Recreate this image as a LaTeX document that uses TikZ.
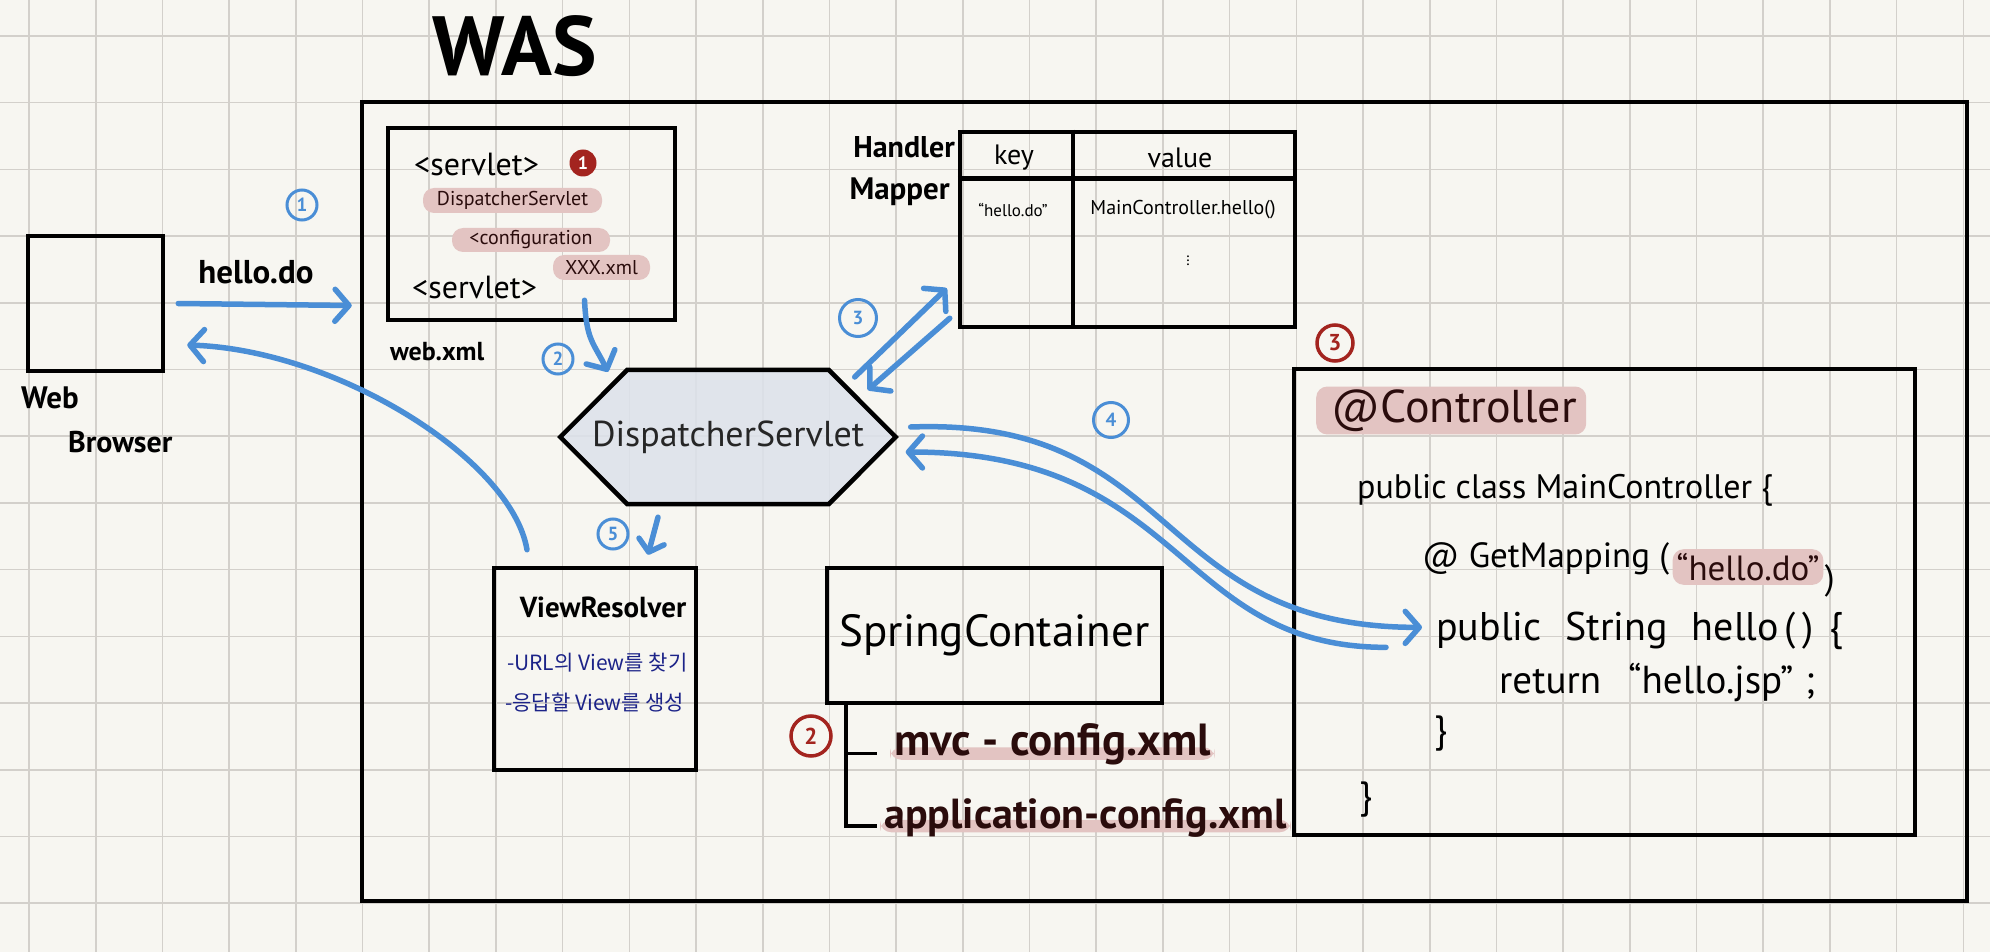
\documentclass[tikz,border=0pt]{standalone}
\usepackage{fontspec}
\setmainfont{PT Sans}
\newfontfamily\krfont{Noto Sans CJK KR}
\usepackage{tikz}
\usetikzlibrary{arrows.meta,positioning,backgrounds}

\definecolor{paper}{HTML}{F7F6F1}
\definecolor{gridgray}{HTML}{D3D0CB}
\definecolor{flowblue}{HTML}{4A8ED6}
\definecolor{markred}{HTML}{A3241F}
\definecolor{hlpink}{HTML}{E3C4C2}
\definecolor{inkbrown}{HTML}{2A0C0C}
\definecolor{inknavy}{HTML}{1C2388}
\definecolor{hexfill}{HTML}{DDE2EB}

\newcommand{\fsz}[1]{\fontsize{#1}{#1}\selectfont}

\tikzset{
  box/.style={draw, line width=4.5pt},
  flow/.style={draw=flowblue, line width=5.5pt, line cap=round,
    -{Straight Barb[round,length=14pt,width=32pt]}},
  bluenum/.style={circle, draw=flowblue, line width=3pt, text=flowblue,
    minimum size=30pt, font=\fsz{19}\bfseries},
  rednum/.style={circle, draw=markred, line width=3.5pt, text=markred,
    minimum size=36pt, font=\fsz{23}\bfseries},
  hl/.style={fill=hlpink, rounded corners=11pt, text=inkbrown, inner sep=3pt},
  code/.style={anchor=base west, font=\fsz{34}}
}

\begin{document}
\begin{tikzpicture}[x=1pt, y=-1pt, inner sep=0pt]
  \useasboundingbox (0,0) rectangle (1990,952);
  \begin{scope}[on background layer]
    \fill[paper] (0,0) rectangle (1990,952);
    \foreach \gx in {0,...,29} {
      \draw[gridgray, line width=1.6pt] (29+66.7*\gx,0) -- (29+66.7*\gx,952);
    }
    \foreach \gy in {0,...,13} {
      \draw[gridgray, line width=1.6pt] (0,36+66.7*\gy) -- (1990,36+66.7*\gy);
    }
  \end{scope}

  \node[font=\fsz{84}\bfseries] (wastitle) at (515,46) {WAS};
  \node[box, minimum width=1605pt, minimum height=799pt] (was) at (1164.5,501.5) {};

  \node[box, minimum size=135pt] (browser) at (95.5,303.5) {};
  \node[font=\fsz{31}\bfseries, anchor=west] (webtxt) at (21,398) {Web};
  \node[font=\fsz{30}\bfseries, anchor=west] (browsertxt) at (68,442) {Browser};
  \node[font=\fsz{33}\bfseries] (reqtxt) at (256,272) {hello.do};
  \node[bluenum] (b1) at (302,205) {1};

  \node[box, minimum width=287pt, minimum height=192pt] (webxml) at (531.5,224) {};
  \node[font=\fsz{26}\bfseries, anchor=west] (webxmltxt) at (390,352) {web.xml};
  \node[font=\fsz{32}, anchor=west] (srvopen) at (414,164) {<servlet>};
  \node[circle, fill=markred, text=white, minimum size=27pt, font=\fsz{18}\bfseries] (r1) at (583,163) {1};
  \node[hl, minimum width=179pt, minimum height=25pt, inner sep=1pt, font=\fsz{20}] (dsname) at (512.5,200.5) {DispatcherServlet};
  \node[hl, minimum width=158pt, minimum height=24pt, inner sep=1pt, font=\fsz{20}] (cfgname) at (531,240) {<configuration};
  \node[hl, minimum width=97pt, minimum height=25pt, inner sep=1pt, font=\fsz{20}] (xmlname) at (601.5,267.5) {XXX.xml};
  \node[font=\fsz{32}, anchor=west] (srvclose) at (412,287) {<servlet>};

  \node[box, minimum width=335pt, minimum height=195pt] (mapper) at (1127.5,229.5) {};
  \draw[box] ([yshift=-49pt]mapper.north west) -- ([yshift=-49pt]mapper.north east);
  \draw[box] ([xshift=115pt]mapper.north west) -- ([xshift=115pt]mapper.south west);
  \node[font=\fsz{30}\bfseries, anchor=east] (handlertxt) at (955,147) {Handler};
  \node[font=\fsz{31}\bfseries, anchor=east] (mappertxt) at (950,192) {Mapper};
  \node[font=\fsz{28}] (keyhead) at (1014,158) {key};
  \node[font=\fsz{28}] (valhead) at (1180,158) {value};
  \node[font=\fsz{17}] (keycell) at (1013,210) {``hello.do''};
  \node[font=\fsz{20}] (valcell) at (1183,210) {MainController.hello()};
  \node[font=\fsz{16}] (valdots) at (1188,258) {$\vdots$};

  \node[minimum width=201pt, minimum height=134pt, text=black!85, font=\fsz{36}] (dispatcher) at (728,437) {\makebox[0pt]{DispatcherServlet}};
  \begin{scope}[on background layer]
    \filldraw[box, fill=hexfill, fill opacity=0.85] (dispatcher.north west) -- (dispatcher.north east)
      -- ([xshift=67pt]dispatcher.east) -- (dispatcher.south east) -- (dispatcher.south west)
      -- ([xshift=-67pt]dispatcher.west) -- cycle;
  \end{scope}
  \node[bluenum] (b2) at (558,359) {2};
  \node[bluenum, minimum size=37pt] (b3) at (858,318) {3};
  \node[bluenum, minimum size=35pt] (b4) at (1111,420) {4};
  \node[bluenum] (b5) at (613,534) {5};

  \node[box, minimum size=202pt] (viewres) at (595,669) {};
  \node[font=\fsz{29}\bfseries] (vrtitle) at (603,607) {ViewResolver};
  \node[font=\krfont\fsz{21}, text=inknavy, anchor=west] (vrfind) at (507,663) {-URL의 View를 찾기};
  \node[font=\krfont\fsz{21}, text=inknavy, anchor=west] (vrmake) at (505,703) {-응답할 View를 생성};

  \node[box, minimum width=335pt, minimum height=135pt, font=\fsz{45}] (spring) at (994.5,635.5) {SpringContainer};
  \node[rednum, minimum size=40pt] (r2) at (811,736) {2};
  \node[hl, anchor=west, font=\fsz{45}\bfseries, text height=0.45em, text depth=0pt, inner sep=4pt] (mvccfg) at (890,753.5) {mvc - config.xml};
  \node[hl, anchor=west, font=\fsz{42}\bfseries, text height=0.45em, text depth=0pt, inner sep=4pt] (appcfg) at (880,826) {application-config.xml};
  \draw[box, line width=3.5pt] ([xshift=21pt]spring.south west) |- ([xshift=-3pt]appcfg.west);
  \draw[box, line width=3.5pt] ([xshift=21pt]spring.south west |- mvccfg.west) -- ([xshift=-13pt]mvccfg.west);

  \node[box, minimum width=621pt, minimum height=466pt] (ctrl) at (1604.5,602) {};
  \node[rednum] (r3) at (1335,343) {3};
  \node[hl, anchor=west, font=\fsz{46}, minimum width=270pt, minimum height=45pt] (ctrlann) at (1316,410.5) {\hspace{6pt}@Controller};
  \node[code] (classline) at (1357,498) {public class MainController \{};
  \node[code, font=\fsz{35}] (getmap) at (1422,567) {@ GetMapping (};
  \node[hl, anchor=base west, font=\fsz{35}, inner sep=4pt, right=3pt of getmap.base east] (getval) {``hello.do''};
  \node[code, font=\fsz{35}, right=1pt of getval.base east] (getclose) {)};
  \node[code, font=\fsz{40}] (hellofn) at (1436,640) {public\hspace{.6em}String\hspace{.6em}hello\hspace{.15em}(\,)\hspace{.4em}\{};
  \node[code, font=\fsz{39}] (retline) at (1499,693) {return\hspace{.7em}``hello.jsp''\hspace{.3em};};
  \node[code, font=\fsz{38}] (fnclose) at (1434,742) {\}};
  \node[code, font=\fsz{38}] (classclose) at (1359,808) {\}};

  \draw[flow] ([xshift=13pt]browser.east) -- ([yshift=-2pt,xshift=-34pt]browser.east -| webxml.west);
  \draw[flow] ([xshift=-68pt,yshift=16pt]viewres.north) .. controls +(-15,-90) and +(150,5) .. ([xshift=22pt,yshift=-41.5pt]browser.east);
  \draw[flow] ([xshift=53pt,yshift=22pt]webxml.south) .. controls +(2,40) and +(-15,-30) .. ([xshift=-120pt,yshift=-2pt]dispatcher.north);
  \draw[flow] ([xshift=26pt,yshift=60pt]dispatcher.east) -- ([xshift=-11pt,yshift=41pt]mapper.south west);
  \draw[flow] ([xshift=-8pt,yshift=11pt]mapper.south west) -- ([xshift=39pt,yshift=47pt]dispatcher.east);
  \draw[flow] ([xshift=82pt,yshift=10pt]dispatcher.east) .. controls +(270,-10) and +(-270,0) .. ([xshift=-14pt,yshift=3pt]hellofn.west);
  \draw[flow] ([xshift=-50pt,yshift=-17pt]hellofn.west) .. controls +(-210,0) and +(280,0) .. ([xshift=77pt,yshift=-15pt]dispatcher.east);
  \draw[flow, -{Straight Barb[round,length=11pt,width=26pt]}] ([xshift=-70pt,yshift=-13pt]dispatcher.south) -- ([xshift=53pt,yshift=11pt]viewres.north);
\end{tikzpicture}
\end{document}
